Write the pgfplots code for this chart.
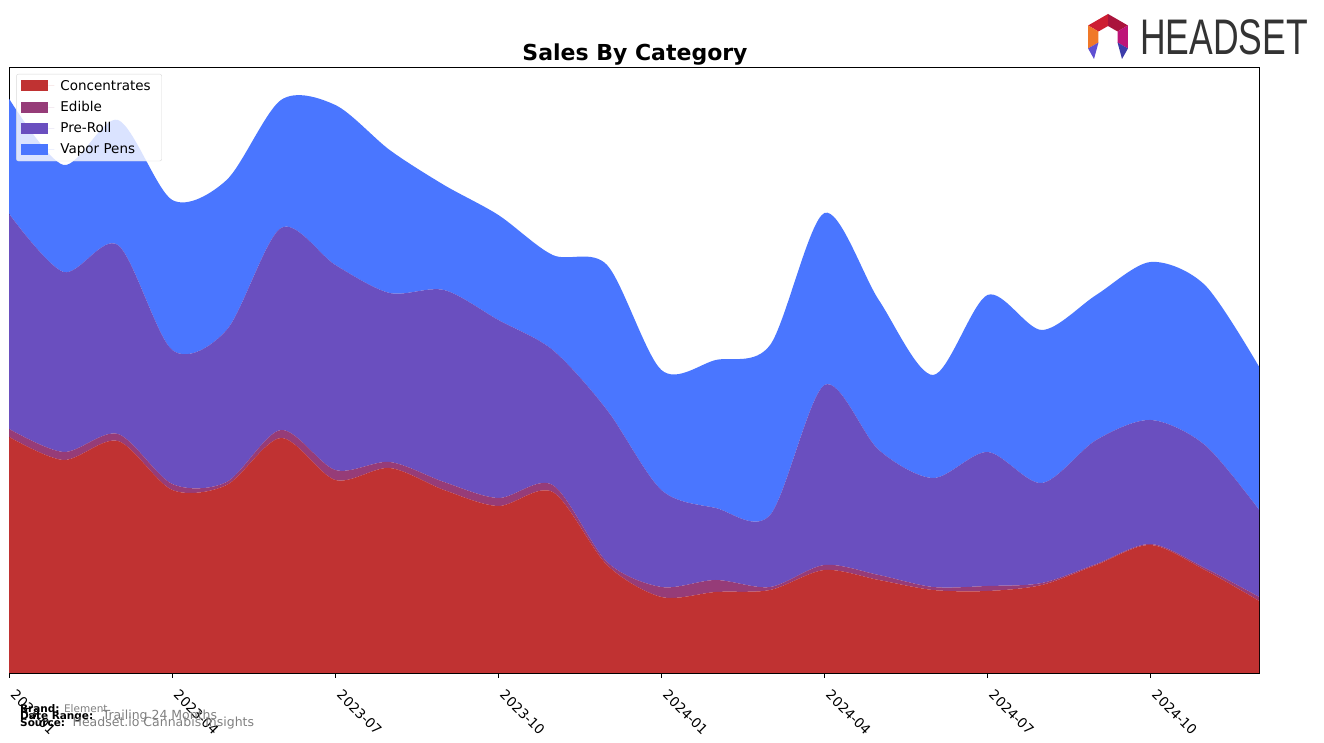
\documentclass[border=0pt]{standalone}
\usepackage{pgfplots}
\usepackage{pgfplotstable}
\pgfplotsset{compat=1.18}
\usepackage{fontspec}
\setmainfont{DejaVu Sans}
\newfontfamily\logofont{Liberation Sans}
\definecolor{cConc}{RGB}{192,50,50}
\definecolor{cEdib}{RGB}{150,60,120}
\definecolor{cPre}{RGB}{106,79,191}
\definecolor{cVap}{RGB}{74,118,255}
\definecolor{lg1}{RGB}{205,30,50}
\definecolor{lg2}{RGB}{170,20,60}
\definecolor{lg3}{RGB}{240,120,40}
\definecolor{lg4}{RGB}{190,20,120}
\definecolor{lg5}{RGB}{95,80,210}
\definecolor{lg6}{RGB}{60,60,170}
\pgfplotstableread{
m conc edib pre vap
0 236 8 215 115
1 213 8 180 107
2 232 7 189 125
3 183 6 134 150
4 188 3 152 150
5 235 8 202 128
6 193 10 205 160
7 205 6 169 143
8 183 8 192 105
9 167 8 178 105
10 181 7 135 95
11 108 3 152 145
12 76 10 97 120
13 81 12 72 148
14 83 3 72 170
15 103 5 180 172
16 93 5 125 150
17 83 3 109 103
18 82 5 134 157
19 88 2 100 153
20 108 1 124 145
21 128 1 124 158
22 103 2 123 160
23 72 4 87 143
}\data
\begin{document}
\begin{tikzpicture}[x=1pt,y=1pt]
\path[use as bounding box] (0,0) rectangle (1324,743);
\begin{axis}[
  at={(17,70)}, anchor=south west,
  width=1250pt, height=606pt, scale only axis,
  xmin=0, xmax=23, ymin=0, ymax=606,
  stack plots=y,
  ytick=\empty,
  xtick={0,3,6,9,12,15,18,21},
  xticklabels={2023-01,2023-04,2023-07,2023-10,2024-01,2024-04,2024-07,2024-10},
  xtick pos=bottom,
  tick align=outside,
  major tick length=5pt,
  tick style={black, line width=0.8pt},
  axis line style={black, line width=0.8pt},
  x tick label style={rotate=-45, anchor=north west, inner sep=2pt, xshift=11pt, font=\fontsize{13.5}{14}\selectfont},
  legend style={at={(0.0056,0.9885)}, anchor=north west, draw=black!15, rounded corners=2pt,
    fill=white, fill opacity=0.8, text opacity=1,
    font=\fontsize{13.5}{16}\selectfont, inner xsep=5pt, inner ysep=4pt, row sep=5.5pt},
  legend cell align=left,
  legend image code/.code={\fill[#1, sharp corners, fill opacity=1] (0pt,-5.5pt) rectangle (27pt,5.5pt); \path (27pt,0pt) -- (33pt,0pt);},
  legend style={nodes={inner xsep=6pt}},
]
\addplot[fill=cConc, draw=none, smooth] table[x=m,y=conc]{\data} \closedcycle;
\addplot[fill=cEdib, draw=none, smooth] table[x=m,y=edib]{\data} \closedcycle;
\addplot[fill=cPre, draw=none, smooth] table[x=m,y=pre]{\data} \closedcycle;
\addplot[fill=cVap, draw=none, smooth] table[x=m,y=vap]{\data} \closedcycle;
\legend{Concentrates, Edible, Pre-Roll, Vapor Pens}
\end{axis}
\node[font=\bfseries\fontsize{22}{24}\selectfont] at (635,688) {Sales By Category};
% footer
\node[anchor=base west, inner sep=0, font=\fontsize{10.5}{11}\selectfont] at (20,30) {\textbf{Brand:}\hspace{0pt} \textcolor{gray}{Element}};
\node[anchor=base west, inner sep=0, font=\fontsize{10.5}{11}\selectfont] at (20,23) {\textbf{Date Range:}\hspace{5pt} \textcolor{gray}{\fontsize{12.5}{13}\selectfont Trailing 24 Months}};
\node[anchor=base west, inner sep=0, font=\fontsize{10.5}{11}\selectfont] at (20,16) {\textbf{Source:}\hspace{3pt} \textcolor{gray}{\fontsize{12.5}{13}\selectfont Headset.io Cannabis Insights}};
% logo
\begin{scope}[shift={(1108,706)}]
\fill[lg1] (150:23) -- (90:23) -- (90:11) -- (150:11) -- cycle;
\fill[lg2] (90:23) -- (30:23) -- (30:11) -- (90:11) -- cycle;
\fill[lg3] (210:23) -- (150:23) -- (150:11) -- (210:11) -- cycle;
\fill[lg4] (30:23) -- (-30:23) -- (-30:11) -- (30:11) -- cycle;
\fill[lg5] (210:23) -- (210:11) -- (-14,-22) -- cycle;
\fill[lg6] (-30:23) -- (-30:11) -- (14,-22) -- cycle;
\end{scope}
\node[anchor=base west, inner sep=0, text=black!80, font=\logofont\fontsize{50}{50}\selectfont, xscale=0.71] at (1140,688) {HEADSET};
\end{tikzpicture}
\end{document}
